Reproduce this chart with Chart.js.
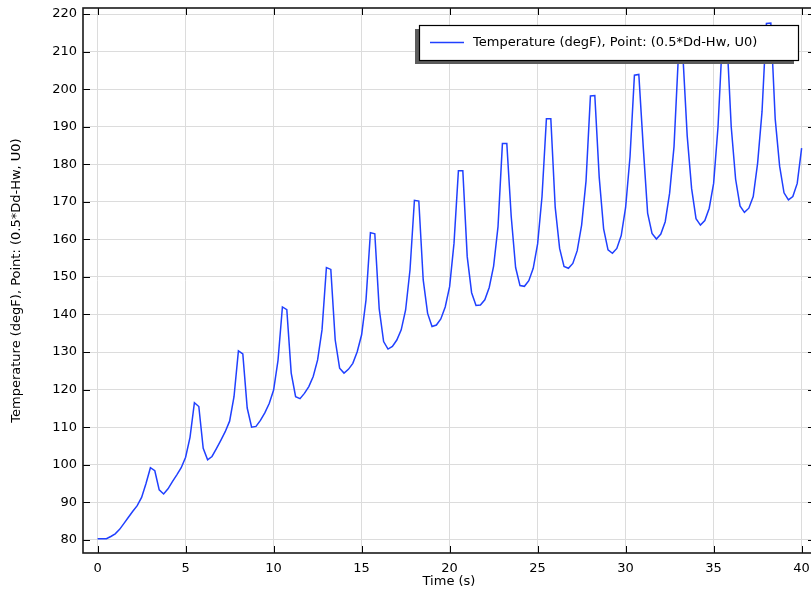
<!DOCTYPE html>
<html>
<head>
<meta charset="utf-8">
<script src="https://cdn.jsdelivr.net/npm/chart.js@4.4.0/dist/chart.umd.min.js"></script>
<style>
  html, body { margin: 0; padding: 0; background: #fff; overflow: hidden; }
  #wrap { width: 811px; height: 593px; overflow: hidden; }
</style>
</head>
<body>
<div id="wrap"><canvas id="chart" width="816" height="593"></canvas></div>
<script>
// time (s)
const times = [
  0, 0.25, 0.5, 0.75, 1, 1.25, 1.5, 1.75, 2, 2.25,
  2.5, 2.75, 3, 3.25, 3.5, 3.75, 4, 4.25, 4.5, 4.75,
  5, 5.25, 5.5, 5.75, 6, 6.25, 6.5, 6.75, 7, 7.25,
  7.5, 7.75, 8, 8.25, 8.5, 8.75, 9, 9.25, 9.5, 9.75,
  10, 10.25, 10.5, 10.75, 11, 11.25, 11.5, 11.75, 12, 12.25,
  12.5, 12.75, 13, 13.25, 13.5, 13.75, 14, 14.25, 14.5, 14.75,
  15, 15.25, 15.5, 15.75, 16, 16.25, 16.5, 16.75, 17, 17.25,
  17.5, 17.75, 18, 18.25, 18.5, 18.75, 19, 19.25, 19.5, 19.75,
  20, 20.25, 20.5, 20.75, 21, 21.25, 21.5, 21.75, 22, 22.25,
  22.5, 22.75, 23, 23.25, 23.5, 23.75, 24, 24.25, 24.5, 24.75,
  25, 25.25, 25.5, 25.75, 26, 26.25, 26.5, 26.75, 27, 27.25,
  27.5, 27.75, 28, 28.25, 28.5, 28.75, 29, 29.25, 29.5, 29.75,
  30, 30.25, 30.5, 30.75, 31, 31.25, 31.5, 31.75, 32, 32.25,
  32.5, 32.75, 33, 33.25, 33.5, 33.75, 34, 34.25, 34.5, 34.75,
  35, 35.25, 35.5, 35.75, 36, 36.25, 36.5, 36.75, 37, 37.25,
  37.5, 37.75, 38, 38.25, 38.5, 38.75, 39, 39.25, 39.5, 39.75,
  40
];

// temperature (degF) at point (0.5*Dd-Hw, U0)
const temps = [
  80.3, 80.3, 80.3, 80.9, 81.6, 82.8, 84.4, 86.0, 87.6, 89.1,
  91.3, 95.0, 99.2, 98.4, 93.3, 92.2, 93.6, 95.5, 97.3, 99.2,
  102.0, 107.3, 116.5, 115.5, 104.4, 101.3, 102.2, 104.3, 106.5, 108.8,
  111.6, 118.1, 130.3, 129.5, 115.1, 110.0, 110.2, 111.8, 113.8, 116.3,
  119.9, 127.8, 142.0, 141.3, 124.4, 118.1, 117.6, 119.0, 120.8, 123.5,
  127.9, 135.9, 152.5, 152.0, 133.2, 125.7, 124.4, 125.4, 127.0, 130.1,
  134.6, 143.9, 161.8, 161.5, 141.5, 132.8, 130.8, 131.5, 133.2, 135.9,
  141.2, 151.9, 170.4, 170.2, 149.2, 140.3, 136.8, 137.2, 138.8, 142.0,
  147.4, 159.0, 178.3, 178.3, 155.4, 145.8, 142.4, 142.5, 143.9, 147.2,
  152.9, 163.4, 185.5, 185.5, 166.1, 152.5, 147.7, 147.5, 149.0, 152.3,
  158.8, 171.4, 192.1, 192.1, 168.5, 157.6, 152.8, 152.3, 153.6, 157.0,
  163.8, 175.5, 198.2, 198.3, 176.5, 162.8, 157.2, 156.3, 157.6, 161.0,
  168.5, 182.0, 203.7, 203.9, 184.7, 167.0, 161.6, 160.1, 161.4, 164.7,
  172.3, 184.7, 209.0, 209.3, 187.5, 173.5, 165.5, 163.8, 165.0, 168.3,
  174.9, 190.0, 213.7, 213.9, 190.0, 176.0, 168.9, 167.2, 168.3, 171.4,
  180.3, 194.0, 217.5, 217.6, 192.0, 179.5, 172.4, 170.5, 171.4, 174.9,
  184.3
];

const seriesLabel = 'Temperature (degF), Point: (0.5*Dd-Hw, U0)';
const xTitle = 'Time (s)';
const yTitle = 'Temperature (degF), Point: (0.5*Dd-Hw, U0)';
const xTicks = [0, 5, 10, 15, 20, 25, 30, 35, 40];
const yTicks = [80, 90, 100, 110, 120, 130, 140, 150, 160, 170, 180, 190, 200, 210, 220];

const FONT = 'DejaVu Sans';
const lineColor = 'rgb(32, 64, 255)';

function points(xs, ys) {
  let pts = [];
  for (let i = 0; i < xs.length; i++) {
    pts.push({x: xs[i], y: ys[i]});
  }
  return pts;
}

// frame with inward ticks on all four sides, plus the boxed legend
const comsolFrame = {
  id: 'comsolFrame',
  afterDraw(chart) {
    const ctx = chart.ctx;
    const a = chart.chartArea;
    const xs = chart.scales.x, ys = chart.scales.y;
    ctx.save();
    ctx.strokeStyle = '#000';
    ctx.lineWidth = 1;
    ctx.beginPath();
    xTicks.forEach(v => {
      const px = Math.round(xs.getPixelForValue(v)) + 0.5;
      ctx.moveTo(px, a.bottom); ctx.lineTo(px, a.bottom - 7);
      ctx.moveTo(px, a.top); ctx.lineTo(px, a.top + 7);
    });
    yTicks.forEach(v => {
      const py = Math.round(ys.getPixelForValue(v)) + 0.5;
      ctx.moveTo(a.left, py); ctx.lineTo(a.left + 7, py);
      ctx.moveTo(a.right, py); ctx.lineTo(a.right - 7, py);
    });
    ctx.stroke();

    ctx.lineWidth = 1.6;
    ctx.strokeStyle = '#1a1a1a';
    ctx.strokeRect(a.left, a.top, a.right - a.left, a.bottom - a.top);

    // legend
    const bx = 419, by = 25, bw = 379, bh = 35;
    ctx.fillStyle = '#5c5c5c';
    ctx.fillRect(bx - 4, by + 4, bw, bh);
    ctx.fillStyle = '#fff';
    ctx.fillRect(bx, by, bw, bh);
    ctx.lineWidth = 1.2;
    ctx.strokeStyle = '#000';
    ctx.strokeRect(bx + 0.5, by + 0.5, bw, bh);
    const ds = chart.data.datasets[0];
    ctx.strokeStyle = ds.borderColor;
    ctx.lineWidth = 1.5;
    ctx.beginPath();
    ctx.moveTo(bx + 11, by + 17.5);
    ctx.lineTo(bx + 45, by + 17.5);
    ctx.stroke();
    ctx.fillStyle = '#000';
    ctx.font = '13px "' + FONT + '"';
    ctx.textBaseline = 'middle';
    ctx.textAlign = 'left';
    ctx.fillText(ds.label, bx + 54, by + 18);
    ctx.restore();
  }
};

const ctx = document.getElementById('chart');
const chart = new Chart(ctx, {
  type: 'line',
  data: {
    datasets: [{
      label: seriesLabel,
      data: points(times, temps),
      borderColor: lineColor,
      borderWidth: 1.5,
      pointRadius: 0,
      tension: 0,
      fill: false
    }]
  },
  options: {
    responsive: false,
    animation: false,
    devicePixelRatio: 1,
    layout: {padding: {left: 0, right: 1, top: 8, bottom: 0}},
    plugins: {legend: {display: false}, tooltip: {enabled: false}},
    scales: {
      x: {
        type: 'linear',
        min: -0.83,
        max: 40.76,
        afterFit: (s) => {
          s.height = 40;
          s.paddingLeft = 0; s.paddingRight = 0;
        },
        afterBuildTicks: (s) => { s.ticks = xTicks.map(v => ({value: v})); },
        grid: {color: '#dcdcdc', lineWidth: 1, drawTicks: false},
        border: {display: false},
        ticks: {
          includeBounds: false,
          stepSize: 5,
          padding: 8,
          color: '#000',
          maxRotation: 0,
          autoSkip: false,
          font: {family: FONT, size: 13}
        },
        title: {
          display: true,
          text: xTitle,
          color: '#000',
          font: {family: FONT, size: 13},
          padding: {top: 0, bottom: 4}
        }
      },
      y: {
        type: 'linear',
        min: 76.5,
        max: 221.6,
        afterFit: (s) => {
          s.width = 83;
          s.paddingTop = 0; s.paddingBottom = 0;
        },
        afterBuildTicks: (s) => { s.ticks = yTicks.map(v => ({value: v})); },
        grid: {color: '#dcdcdc', lineWidth: 1, drawTicks: false},
        border: {display: false},
        ticks: {
          includeBounds: false,
          stepSize: 10,
          padding: 6,
          color: '#000',
          autoSkip: false,
          font: {family: FONT, size: 13}
        },
        title: {
          display: true,
          text: yTitle,
          color: '#000',
          font: {family: FONT, size: 13},
          padding: {top: 9, bottom: 0}
        }
      }
    }
  },
  plugins: [comsolFrame]
});
</script>
</body>
</html>
